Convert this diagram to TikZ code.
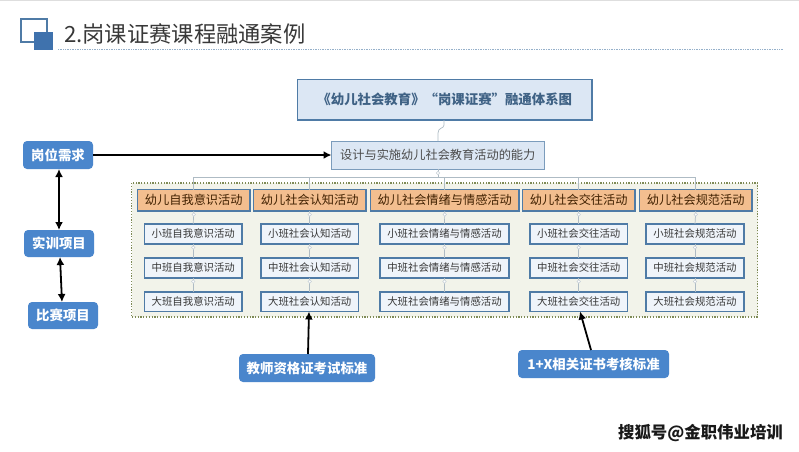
\documentclass[tikz,border=0pt]{standalone}
\usepackage{fontspec}
\setmainfont{Noto Sans CJK SC}
\usetikzlibrary{arrows.meta}
\definecolor{blueb}{HTML}{4A86CC}
\definecolor{edgeb}{HTML}{4F7BA6}
\definecolor{paleb}{HTML}{DCE7F4}
\definecolor{orangef}{HTML}{F3BE8F}
\definecolor{panelf}{HTML}{F2F3EA}
\definecolor{treeg}{HTML}{AEBBC4}
\definecolor{dotc}{HTML}{7E8A55}
\tikzset{
  every node/.style={outer sep=0pt},
  px/.style={x=1pt,y=-1pt},
  pill/.style={draw=none,fill=blueb,rounded corners=4pt,text=white,font=\fontsize{13.4}{15}\selectfont\bfseries,inner sep=0pt,anchor=north west},
  topbox/.style={draw=edgeb,line width=1.9pt,fill=paleb,text=edgeb!80!black,font=\fontsize{13.4}{15}\selectfont\bfseries,inner sep=0pt,anchor=north west},
  midbox/.style={draw=edgeb!75,line width=1pt,fill=paleb,text=black!70,font=\fontsize{12.2}{14}\selectfont,inner sep=0pt,anchor=north west},
  catbox/.style={draw=edgeb,line width=1.5pt,fill=orangef,text=black!75!orange,font=\fontsize{12.2}{14}\selectfont,inner sep=0pt,anchor=north west},
  subbox/.style={draw=edgeb,line width=1.4pt,fill=paleb!45,text=black!78,font=\fontsize{10.4}{12}\selectfont,inner sep=0pt,anchor=north west},
  tree/.style={draw=treeg,line width=.7pt},
  knob/.style={draw=treeg!70,line width=.4pt,fill=white,circle,inner sep=0pt,minimum size=3.5pt},
  link/.style={draw=black,line width=1.8pt,-{Latex[length=8pt,width=8pt]}},
  biglink/.style={draw=black,line width=1.8pt,{Latex[length=8pt,width=8pt]}-{Latex[length=8pt,width=8pt]}}
}
\newcommand{\placebox}[7]{\node[#1,minimum width=#4-#3,minimum height=#6-#5] (#2) at (#3,#5) {#7};}
\begin{document}
\begin{tikzpicture}[px]
\useasboundingbox (0,0) rectangle (799,451);
\fill[white] (0,0) rectangle (799,451);
\fill[black!13] (0,0) rectangle (799,1.2);
% heading
\draw[edgeb,line width=1.2pt] (21,19) rectangle (47,42);
\fill[blueb!85!black] (34,32) rectangle (53,50);
\node[anchor=west,inner sep=0pt,text=black!78,font=\fontsize{22.3}{24}\selectfont] (head) at (64,34) {2.岗课证赛课程融通案例};
\draw[edgeb!60,line width=.7pt,densely dotted] (58,49.5) -- (783,49.5);
% panel
\fill[panelf] (131.5,183) rectangle (757.5,317);
\draw[draw=dotc,line width=1.2pt,dash pattern=on 1.2pt off 1.6pt] (131.5,183) rectangle (757.5,317);
% main boxes
\placebox{topbox}{title}{297.5}{592}{79.5}{120}{《幼儿社会教育》“岗课证赛”融通体系图}
\placebox{midbox}{ability}{331.5}{544}{141}{169}{设计与实施幼儿社会教育活动的能力}
% categories
\placebox{catbox}{c1}{137.5}{250}{189.5}{211}{幼儿自我意识活动}
\placebox{catbox}{c2}{253.5}{366}{189.5}{211}{幼儿社会认知活动}
\placebox{catbox}{c3}{370.5}{519}{189.5}{211}{幼儿社会情绪与情感活动}
\placebox{catbox}{c4}{522.5}{635}{189.5}{211}{幼儿社会交往活动}
\placebox{catbox}{c5}{639.5}{752}{189.5}{211}{幼儿社会规范活动}
% sub boxes
\foreach \n/\l/\r/\t in {1/144.5/242/自我意识,2/261/358.5/社会认知,3/380/509/社会情绪与情感,4/530/627.5/社会交往,5/646/744/社会规范}{
  \placebox{subbox}{a\n}{\l}{\r}{224}{244}{小班\t 活动}
  \placebox{subbox}{b\n}{\l}{\r}{258}{278}{中班\t 活动}
  \placebox{subbox}{d\n}{\l}{\r}{292}{311.5}{大班\t 活动}
}
% tree
\coordinate (rail) at (438,177);
\draw[tree] (title.south -| 444,0) -- (444,125) .. controls (444,129) and (438,127) .. (438,133) -- (ability.north -| 438,0);
\draw[tree] (ability.south -| 438,0) -- (rail);
\draw[tree] (c1.north) |- (rail) -| (c5.north);
\draw[tree] (rail) -| (c2.north);
\draw[tree] (rail) -| (c3.north);
\draw[tree] (rail) -| (c4.north);
\foreach \n in {1,...,5}{
  \draw[tree] (c\n.south) -- (a\n.north);
  \draw[tree] (a\n.south) -- (b\n.north);
  \draw[tree] (b\n.south) -- (d\n.north);
  \node[knob] (k1\n) at ([yshift=-3.5pt]c\n.south) {};
  \node[knob] (k2\n) at ([yshift=-3.5pt]a\n.south) {};
  \node[knob] (k3\n) at ([yshift=-3.5pt]b\n.south) {};
}
\node[knob] (k0) at (438,173) {};
% side pills
\placebox{pill}{need}{23}{93}{141}{169}{岗位需求}
\placebox{pill}{train}{24}{94}{230}{257}{实训项目}
\placebox{pill}{comp}{28}{98}{302}{329}{比赛项目}
\placebox{pill}{teach}{239}{375}{354}{382}{教师资格证考试标准}
\placebox{pill}{onex}{518}{669}{350}{378}{1+X相关证书考核标准}
% arrows
\draw[link] (need.east) -- (ability.west);
\draw[biglink] (need.south -| 59,0) -- (train.north -| 59,0);
\draw[biglink] (train.south -| 60,0) -- (comp.north -| 62,0);
\draw[link] (teach.north -| 308,0) -- (d2.south -| 309,0);
\draw[link] (onex.north -| 591,0) -- (d4.south -| 580,0);
% mark
\node[anchor=center,inner sep=0pt,text=black!90,font=\fontsize{16.4}{20}\selectfont\bfseries] (mark) at (700.5,433) {搜狐号@金职伟业培训};
\end{tikzpicture}
\end{document}
